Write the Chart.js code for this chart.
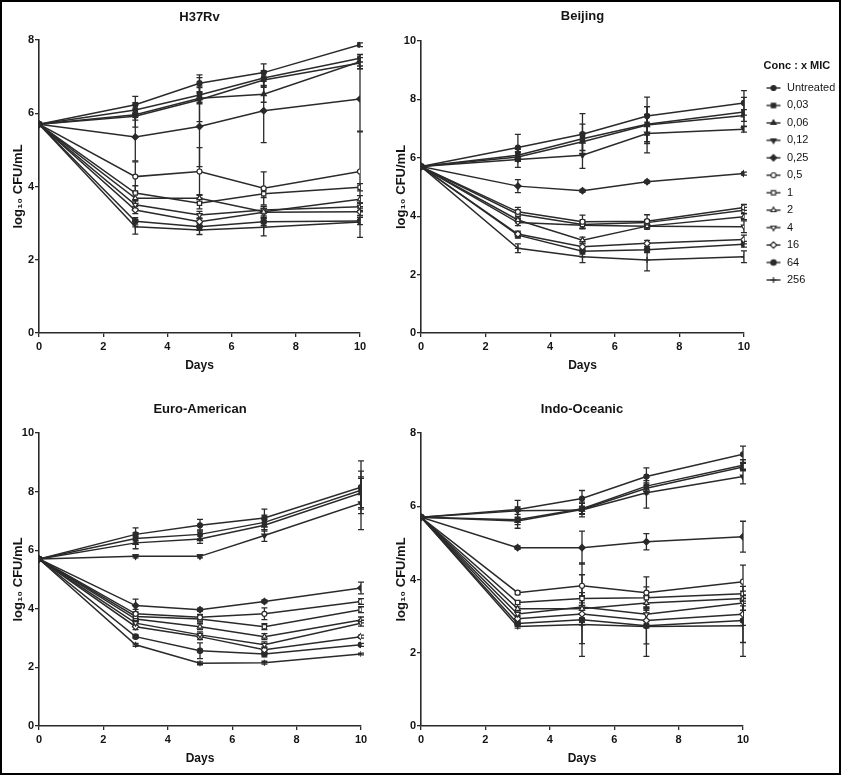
<!DOCTYPE html>
<html>
<head>
<meta charset="utf-8">
<script src="https://cdn.jsdelivr.net/npm/chart.js@4/dist/chart.umd.min.js"></script>
<style>
html,body{margin:0;padding:0;background:#fff;width:842px;height:776px;overflow:hidden;}
#frame{position:absolute;left:0;top:0;width:841px;height:775px;box-sizing:border-box;border:2.5px solid #000;}
.pane{position:absolute;}
</style>
</head>
<body>
<div id="frame"></div>
<div class="pane" style="left:0;top:0;width:380px;height:380px"><canvas id="p1"></canvas></div>
<div class="pane" style="left:380px;top:0;width:470px;height:380px"><canvas id="p2"></canvas></div>
<div class="pane" style="left:0;top:380px;width:380px;height:396px"><canvas id="p3"></canvas></div>
<div class="pane" style="left:380px;top:380px;width:462px;height:396px"><canvas id="p4"></canvas></div>
<script>
// ---------------- DATA ----------------
const days = [0, 3, 5, 7, 10];
const concLabels = ['Untreated', '0,03', '0,06', '0,12', '0,25', '0,5', '1', '2', '4', '16', '64', '256'];
const panelTitles = ['H37Rv', 'Beijing', 'Euro-American', 'Indo-Oceanic'];
const yMaxima = [8, 10, 10, 8];

// rows follow concLabels, columns follow days (log10 CFU/mL)
const h37rvValues = [
  [5.7, 6.23, 6.82, 7.11, 7.87],
  [5.7, 6.09, 6.50, 6.96, 7.50],
  [5.7, 5.96, 6.41, 6.52, 7.41],
  [5.7, 5.92, 6.37, 6.91, 7.37],
  [5.7, 5.35, 5.64, 6.07, 6.39],
  [5.7, 4.27, 4.41, 3.95, 4.41],
  [5.7, 3.82, 3.54, 3.80, 3.98],
  [5.7, 3.68, 3.68, 3.31, 3.65],
  [5.7, 3.50, 3.22, 3.36, 3.45],
  [5.7, 3.36, 3.04, 3.30, 3.31],
  [5.7, 3.05, 2.90, 3.04, 3.06],
  [5.7, 2.90, 2.81, 2.89, 3.03]
];
const h37rvErrors = [
  [0, 0.23, 0.23, 0.24, 0.05],
  [0, 0.20, 0.20, 0.20, 0.10],
  [0, 0.15, 0.15, 0.22, 0.20],
  [0, 0.30, 0.60, 0.20, 0.15],
  [0, 0.65, 1.10, 0.87, 0.90],
  [0, 0.40, 0.65, 0.45, 1.10],
  [0, 0.20, 0.15, 0.10, 0.10],
  [0, 0.15, 0.10, 0.15, 0.10],
  [0, 0.10, 0.10, 0.10, 0.10],
  [0, 0.10, 0.10, 0.10, 0.10],
  [0, 0.10, 0.10, 0.10, 0.10],
  [0, 0.20, 0.12, 0.24, 0.42]
];

const beijingValues = [
  [5.7, 6.35, 6.81, 7.43, 7.88],
  [5.7, 6.09, 6.65, 7.15, 7.57],
  [5.7, 6.03, 6.55, 7.12, 7.45],
  [5.7, 5.94, 6.09, 6.83, 6.98],
  [5.7, 5.03, 4.87, 5.18, 5.46],
  [5.7, 4.15, 3.81, 3.83, 4.30],
  [5.7, 4.07, 3.72, 3.78, 4.20],
  [5.7, 3.87, 3.18, 3.66, 3.98],
  [5.7, 3.78, 3.69, 3.66, 3.64],
  [5.7, 3.39, 2.95, 3.07, 3.20],
  [5.7, 3.35, 2.80, 2.85, 3.04],
  [5.7, 2.90, 2.61, 2.50, 2.61]
];
const beijingErrors = [
  [0, 0.45, 0.70, 0.65, 0.42],
  [0, 0.20, 0.50, 0.60, 0.50],
  [0, 0.15, 0.30, 0.63, 0.20],
  [0, 0.27, 0.45, 0.66, 0.10],
  [0, 0.22, 0.05, 0.05, 0.05],
  [0, 0.15, 0.23, 0.22, 0.10],
  [0, 0.15, 0.15, 0.10, 0.10],
  [0, 0.10, 0.10, 0.10, 0.10],
  [0, 0.10, 0.10, 0.10, 0.20],
  [0, 0.10, 0.10, 0.10, 0.15],
  [0, 0.10, 0.10, 0.10, 0.10],
  [0, 0.15, 0.20, 0.37, 0.20]
];

const euroValues = [
  [5.7, 6.54, 6.85, 7.10, 8.15],
  [5.7, 6.40, 6.54, 6.95, 8.05],
  [5.7, 6.25, 6.38, 6.85, 7.95],
  [5.7, 5.79, 5.79, 6.50, 7.60],
  [5.7, 4.11, 3.97, 4.25, 4.71],
  [5.7, 3.83, 3.71, 3.83, 4.25],
  [5.7, 3.74, 3.65, 3.39, 3.97],
  [5.7, 3.65, 3.39, 3.05, 3.62],
  [5.7, 3.51, 3.11, 2.77, 3.51],
  [5.7, 3.39, 3.05, 2.60, 3.05],
  [5.7, 3.05, 2.57, 2.46, 2.77],
  [5.7, 2.77, 2.14, 2.16, 2.46]
];
const euroErrors = [
  [0, 0.22, 0.20, 0.30, 0.90],
  [0, 0.20, 0.15, 0.25, 0.65],
  [0, 0.20, 0.15, 0.20, 0.50],
  [0, 0.05, 0.05, 0.20, 0.90],
  [0, 0.22, 0.05, 0.05, 0.20],
  [0, 0.15, 0.10, 0.20, 0.10],
  [0, 0.10, 0.10, 0.10, 0.10],
  [0, 0.10, 0.10, 0.10, 0.10],
  [0, 0.10, 0.10, 0.10, 0.10],
  [0, 0.10, 0.10, 0.10, 0.05],
  [0, 0.05, 0.27, 0.10, 0.05],
  [0, 0.05, 0.05, 0.05, 0.03]
];

const indoValues = [
  [5.7, 5.91, 6.21, 6.81, 7.42],
  [5.7, 5.63, 5.93, 6.55, 7.12],
  [5.7, 5.60, 5.91, 6.49, 7.07],
  [5.7, 5.88, 5.90, 6.37, 6.81],
  [5.7, 4.87, 4.87, 5.03, 5.17],
  [5.7, 3.64, 3.83, 3.64, 3.94],
  [5.7, 3.37, 3.48, 3.50, 3.61],
  [5.7, 3.20, 3.20, 3.36, 3.48],
  [5.7, 3.06, 3.25, 3.05, 3.36],
  [5.7, 2.93, 3.06, 2.88, 3.05],
  [5.7, 2.80, 2.90, 2.74, 2.88],
  [5.7, 2.72, 2.77, 2.72, 2.74]
];
const indoErrors = [
  [0, 0.25, 0.22, 0.24, 0.22],
  [0, 0.23, 0.15, 0.15, 0.15],
  [0, 0.10, 0.20, 0.15, 0.10],
  [0, 0.10, 0.10, 0.42, 0.20],
  [0, 0.05, 0.45, 0.22, 0.42],
  [0, 0.05, 0.62, 0.43, 0.45],
  [0, 0.05, 0.65, 0.30, 0.20],
  [0, 0.05, 0.30, 0.20, 0.20],
  [0, 0.05, 0.30, 0.20, 0.20],
  [0, 0.05, 0.30, 0.20, 0.30],
  [0, 0.05, 0.65, 0.50, 0.60],
  [0, 0.05, 0.87, 0.82, 0.84]
];

// ---------------- STYLE ----------------
const LINE = '#2a2a2a';
const TXT = '#141414';
const FONT = "'Liberation Sans', Arial, sans-serif";
Chart.defaults.font.family = FONT;
Chart.defaults.color = TXT;

const markerStyle = ['circle', 'rect', 'triangle', 'triangle', 'rectRot', 'circle', 'rect', 'triangle', 'triangle', 'rectRot', 'circle', 'cross'];
const markerRotation = [0, 0, 0, 180, 0, 0, 0, 0, 180, 0, 0, 0];
const markerFilled = [true, true, true, true, true, false, false, false, false, false, true, false];
const markerRadius = [2.5, 3.0, 3.0, 3.0, 3.2, 2.5, 3.0, 3.0, 3.0, 3.2, 2.7, 3.0];

// legend icons: short line with the series marker
function makeIcon(i) {
  const c = document.createElement('canvas');
  c.width = 16; c.height = 12;
  const g = c.getContext('2d');
  g.strokeStyle = LINE; g.lineWidth = 1.4;
  g.beginPath(); g.moveTo(1, 6); g.lineTo(15, 6); g.stroke();
  g.fillStyle = markerFilled[i] ? LINE : '#fff';
  g.lineWidth = 1.2;
  if (Chart.helpers && Chart.helpers.drawPoint) {
    Chart.helpers.drawPoint(g, {pointStyle: markerStyle[i], rotation: markerRotation[i], radius: markerRadius[i], borderWidth: 1.2}, 8, 6);
  } else {
    g.beginPath(); g.arc(8, 6, 2.5, 0, Math.PI * 2); g.fill(); g.stroke();
  }
  return c;
}
const legendIcons = concLabels.map((_, i) => makeIcon(i));

const errorBars = {
  id: 'errorBars',
  beforeDatasetsDraw(chart) {
    const {ctx} = chart;
    const xs = chart.scales.x, ys = chart.scales.y;
    ctx.save();
    ctx.strokeStyle = LINE;
    ctx.lineWidth = 1.3;
    chart.data.datasets.forEach((ds, di) => {
      if (!chart.isDatasetVisible(di) || !ds.errors) return;
      ds.data.forEach((p, i) => {
        const e = ds.errors[i];
        if (!e) return;
        const px = xs.getPixelForValue(p.x);
        const y1 = ys.getPixelForValue(p.y + e);
        const y2 = ys.getPixelForValue(p.y - e);
        ctx.beginPath();
        ctx.moveTo(px, y1); ctx.lineTo(px, y2);
        ctx.moveTo(px - 3, y1); ctx.lineTo(px + 3, y1);
        ctx.moveTo(px - 3, y2); ctx.lineTo(px + 3, y2);
        ctx.stroke();
      });
    });
    ctx.restore();
  }
};

function makeDatasets(values, errors) {
  return concLabels.map((lab, i) => ({
    label: lab,
    data: days.map((d, j) => ({x: d, y: values[i][j]})),
    errors: errors[i],
    borderColor: LINE,
    borderWidth: 1.5,
    pointStyle: markerStyle[i],
    pointRotation: markerRotation[i],
    pointRadius: markerRadius[i],
    pointHoverRadius: markerRadius[i],
    pointBackgroundColor: markerFilled[i] ? LINE : '#fff',
    pointBorderColor: LINE,
    pointBorderWidth: 1.2,
    tension: 0,
    fill: false
  }));
}

const tickFont = {family: FONT, size: 11, weight: 'bold'};
const yTitleFont = {family: FONT, size: 13, weight: 'bold', lineHeight: 1.2};
const xTitleFont = {family: FONT, size: 12, weight: 'bold', lineHeight: 1.3};
const titleFont = {family: FONT, size: 13, weight: 'bold', lineHeight: 1.2};
const legendFont = {family: FONT, size: 11};
const legendTitleFont = {family: FONT, size: 11, weight: 'bold', lineHeight: 1.2};

function makeScales(p) {
  const s = {
    x: {
      type: 'linear', min: 0, max: 10,
      ticks: {stepSize: 2, font: tickFont, color: TXT, padding: 3, maxRotation: 0},
      grid: {display: true, drawOnChartArea: false, drawTicks: true, tickLength: 4, color: LINE, lineWidth: 1.3},
      border: {display: true, color: LINE, width: 1.6},
      title: {display: true, text: 'Days', font: xTitleFont, color: TXT, padding: {top: 0, bottom: p.xTitlePad}},
      afterFit(sc) { sc.height = p.xHeight; }
    },
    y: {
      type: 'linear', min: 0, max: p.ymax,
      ticks: {stepSize: 2, font: tickFont, color: TXT, padding: 1},
      grid: {display: true, drawOnChartArea: false, drawTicks: true, tickLength: 4, color: LINE, lineWidth: 1.3},
      border: {display: true, color: LINE, width: 1.6},
      title: {display: true, text: 'log₁₀ CFU/mL', font: yTitleFont, color: TXT, padding: {top: p.yTitlePad, bottom: 0}},
      afterFit(sc) { sc.width = p.yWidth; }
    }
  };
  if (p.legend) {
    s.gap = {
      type: 'linear', position: 'right', display: true,
      grid: {display: false}, border: {display: false}, ticks: {display: false},
      afterFit(sc) { sc.width = p.gapWidth; }
    };
  }
  return s;
}

// measure legend width to place it precisely
const mctx = document.createElement('canvas').getContext('2d');
mctx.font = '11px ' + FONT;
const maxLabelW = Math.max(...concLabels.map(t => mctx.measureText(t).width));
const LEG_PAD = 6.45;
const legendW = LEG_PAD + (16 + 5.5 + maxLabelW) + 10;
const legendLeft = 378.05;
const beijingPadRight = Math.max(0, 470 - legendLeft - legendW) + 9.5;

const panels = [
  {id: 'p1', title: panelTitles[0], values: h37rvValues, errors: h37rvErrors, ymax: yMaxima[0], yWidth: 39, yTitlePad: 10.2, xHeight: 47, xTitlePad: 6.2, titlePad: {top: 10, bottom: 14.4}, padRight: 20, legend: false},
  {id: 'p2', title: panelTitles[1], values: beijingValues, errors: beijingErrors, ymax: yMaxima[1], yWidth: 41, yTitlePad: 13.2, xHeight: 47, xTitlePad: 6.2, titlePad: {top: 9, bottom: 16.4}, padRight: beijingPadRight, legend: true, gapWidth: legendLeft - 363},
  {id: 'p3', title: panelTitles[2], values: euroValues, errors: euroErrors, ymax: yMaxima[2], yWidth: 39, yTitlePad: 10.2, xHeight: 50, xTitlePad: 9.2, titlePad: {top: 21.5, bottom: 15.9}, padRight: 19, legend: false},
  {id: 'p4', title: panelTitles[3], values: indoValues, errors: indoErrors, ymax: yMaxima[3], yWidth: 41, yTitlePad: 13.2, xHeight: 50, xTitlePad: 9.2, titlePad: {top: 21.5, bottom: 15.9}, padRight: 99, legend: false}
];

panels.forEach(p => {
  new Chart(document.getElementById(p.id), {
    type: 'line',
    data: {datasets: makeDatasets(p.values, p.errors)},
    options: {
      responsive: true,
      maintainAspectRatio: false,
      animation: false,
      events: [],
      layout: {padding: {left: 0, right: p.padRight, top: 0, bottom: 0}},
      scales: makeScales(p),
      plugins: {
        title: {display: true, text: p.title, font: titleFont, color: TXT, fullSize: false, padding: p.titlePad},
        tooltip: {enabled: false},
        legend: p.legend ? {
          display: true, position: 'right', align: 'start',
          title: {display: true, text: 'Conc : x MIC', font: legendTitleFont, color: TXT, position: 'center', padding: {top: 60.5, bottom: 2.35}},
          labels: {
            usePointStyle: true, pointStyleWidth: 16, padding: LEG_PAD, font: legendFont, color: TXT,
            generateLabels(chart) {
              return chart.data.datasets.map((ds, i) => ({
                text: ds.label, pointStyle: legendIcons[i], fillStyle: LINE, strokeStyle: LINE,
                lineWidth: 0, hidden: false, datasetIndex: i, fontColor: TXT
              }));
            }
          }
        } : {display: false}
      }
    },
    plugins: [errorBars]
  });
});
</script>
</body>
</html>
